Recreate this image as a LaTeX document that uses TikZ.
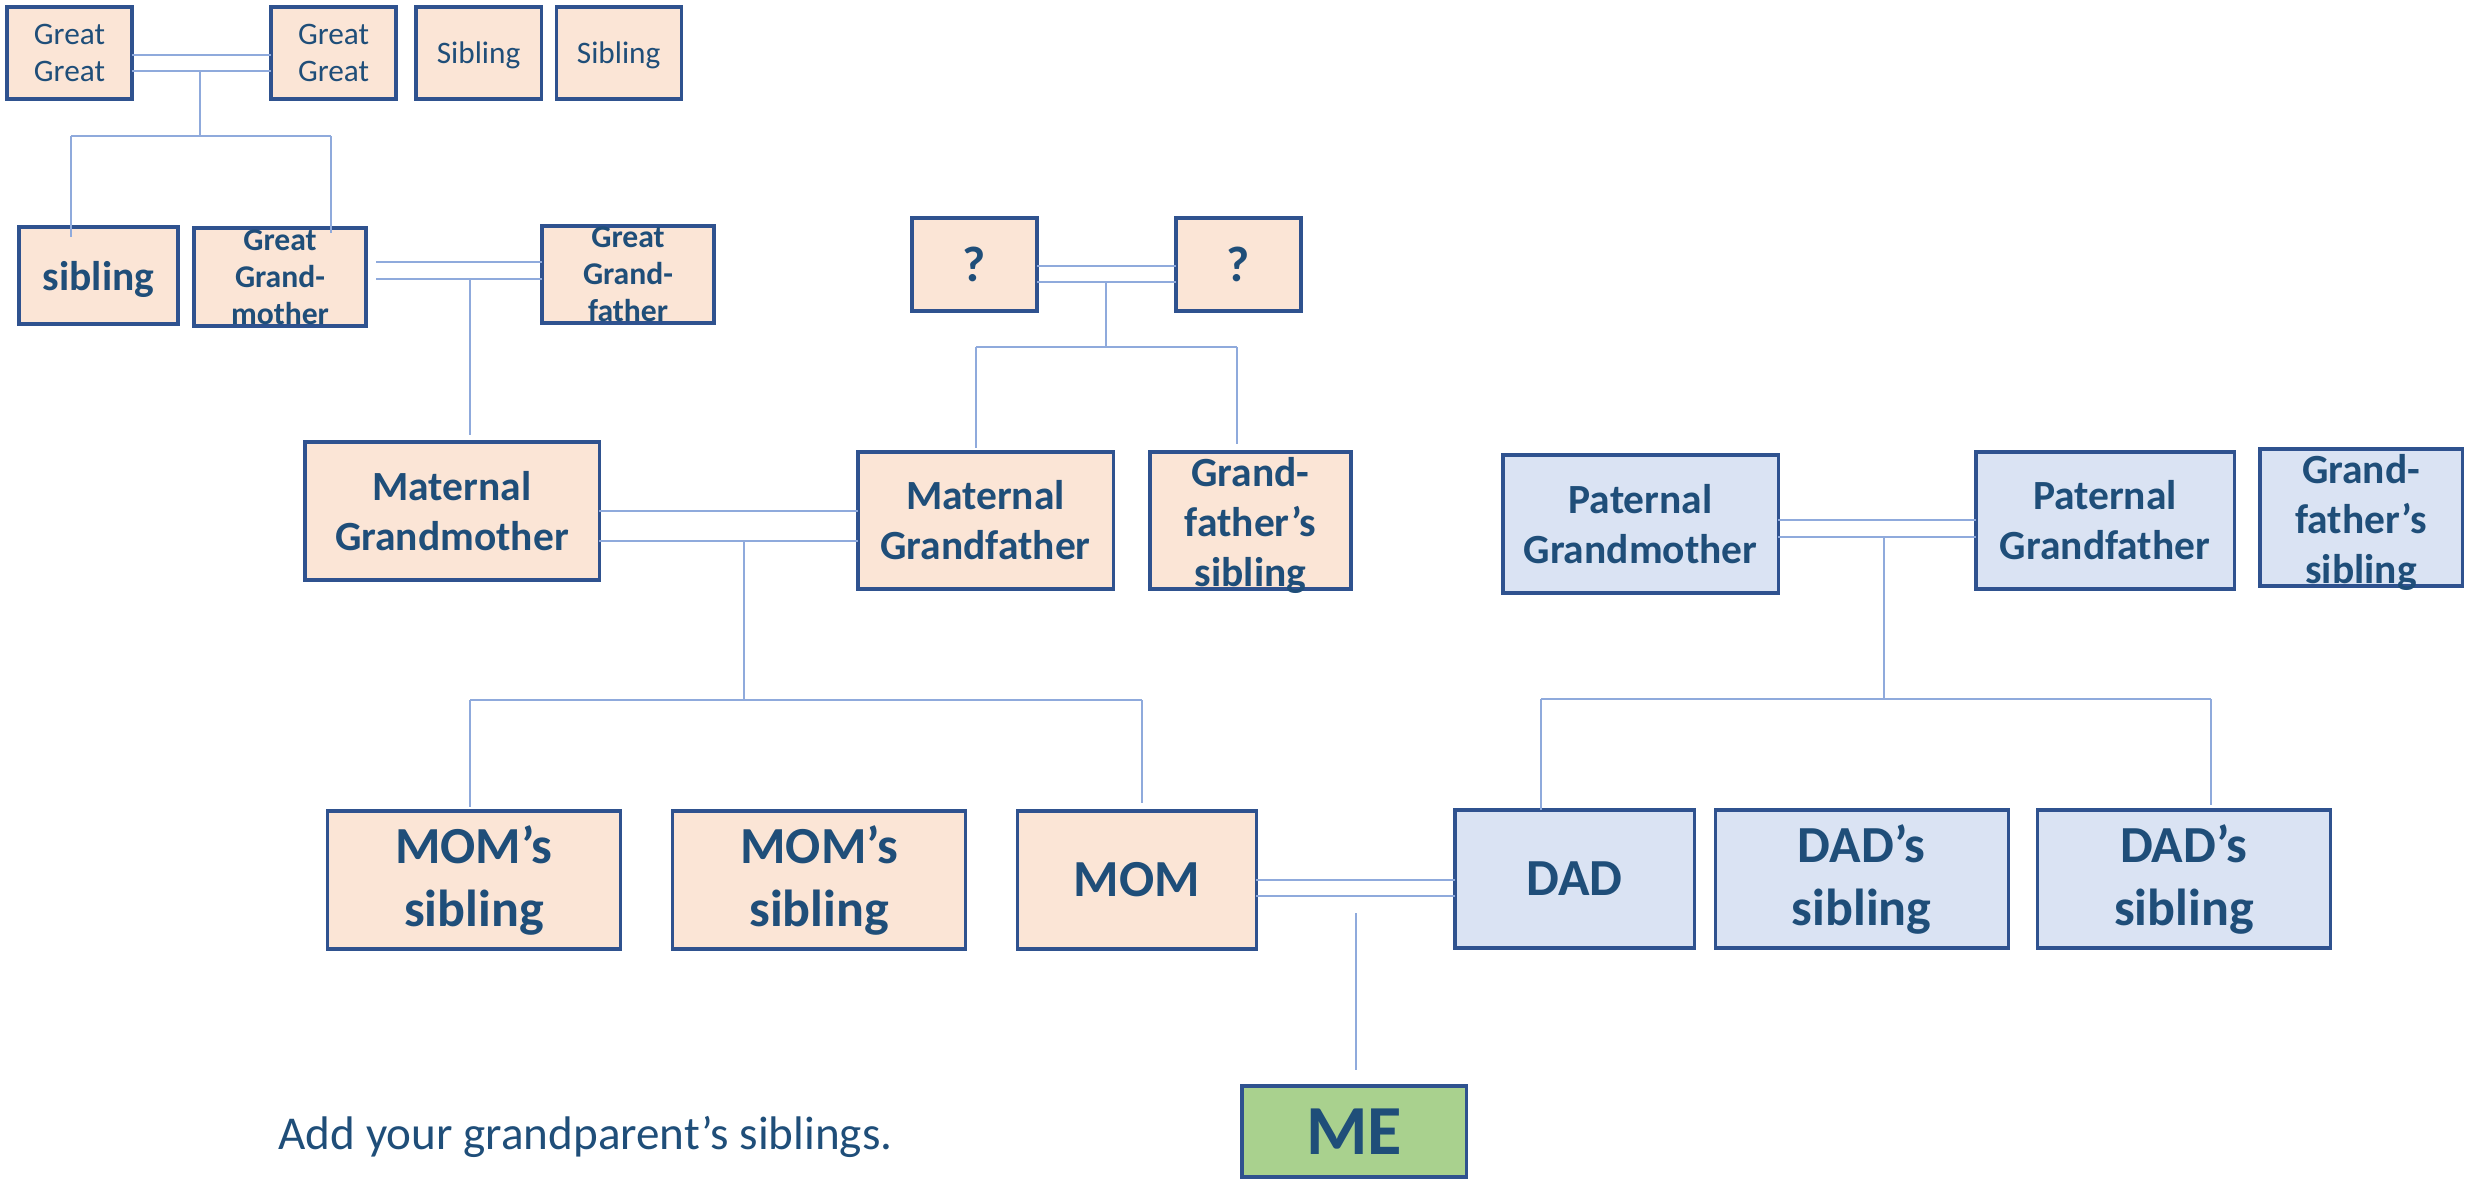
\documentclass[tikz,border=0pt]{standalone}
\usepackage{fontspec}
\setmainfont{Carlito}
\usetikzlibrary{positioning}

\definecolor{peach}{HTML}{FBE5D6}
\definecolor{paleblue}{HTML}{DAE3F3}
\definecolor{leafgreen}{HTML}{A9D18E}
\definecolor{edgeblue}{HTML}{2F528F}
\definecolor{inkblue}{HTML}{1F4E79}
\definecolor{linkblue}{HTML}{8FAADC}

\begin{document}
\begin{tikzpicture}[
    x=0.01cm, y=-0.01cm,
    person_style/.style={draw=edgeblue, line width=0.9pt, text=inkblue, inner sep=0pt, outer sep=0pt, align=center},
    mom_side/.style={person_style, fill=peach},
    dad_side/.style={person_style, fill=paleblue},
    me_style/.style={person_style, fill=leafgreen},
    text_style/.style={text=inkblue, inner sep=0pt, align=center},
    link_style/.style={draw=linkblue, line width=0.55pt},
    tiny_font/.style={font=\fontsize{8.9}{10.5}\selectfont},
    small_font/.style={font=\bfseries\fontsize{9}{10.5}\selectfont},
    mid_font/.style={font=\bfseries\fontsize{11.8}{14.2}\selectfont},
    big_font/.style={font=\bfseries\fontsize{14.8}{17.9}\selectfont}
]

    \useasboundingbox (0,0) rectangle (2473,1178);

    % Great great grandparents
    \node[mom_side, tiny_font, minimum width=1.25cm, minimum height=0.92cm] (gg_left) at (69.5,53) {Great\\Great};
    \node[mom_side, tiny_font, minimum width=1.25cm, minimum height=0.92cm] (gg_right) at (333.5,53) {Great\\Great};
    \node[mom_side, tiny_font, text depth=0pt, minimum width=1.25cm, minimum height=0.92cm, right=0.2cm of gg_right] (gg_sib_a) {Sibling};
    \node[mom_side, tiny_font, text depth=0pt, minimum width=1.25cm, minimum height=0.92cm, right=0.15cm of gg_sib_a] (gg_sib_b) {Sibling};

    % Great grandparents
    \node[mom_side, mid_font, text depth=0pt, minimum width=1.59cm, minimum height=0.97cm] (g_sibling) at (98.5,275.5) {sibling};
    \node[mom_side, minimum width=1.72cm, minimum height=0.98cm] (g_grandma) at (280,277) {};
    \node[text_style, small_font] (g_grandma_txt) at (g_grandma) {Great\\Grand-\\mother};
    \node[mom_side, minimum width=1.72cm, minimum height=0.97cm] (g_grandpa) at (628,274.5) {};
    \node[text_style, small_font] (g_grandpa_txt) at (g_grandpa) {Great\\Grand-\\father};
    \node[mom_side, font=\bfseries\fontsize{14.2}{17}\selectfont, minimum width=1.25cm, minimum height=0.93cm] (q_left) at (974.5,264.5) {?};
    \node[mom_side, font=\bfseries\fontsize{14.2}{17}\selectfont, minimum width=1.25cm, minimum height=0.93cm] (q_right) at (1238.5,264.5) {?};

    % Grandparents
    \node[mom_side, mid_font, minimum width=2.94cm, minimum height=1.38cm] (m_grandma) at (452,511) {Maternal\\Grandmother};
    \node[mom_side, mid_font, minimum width=2.55cm, minimum height=1.37cm] (m_grandpa) at (985.5,520.5) {Maternal\\Grandfather};
    \node[mom_side, minimum width=2.01cm, minimum height=1.37cm] (m_gp_sib) at (1250.5,520.5) {};
    \node[text_style, mid_font] (m_gp_sib_txt) at ([yshift=-0.05cm]m_gp_sib) {Grand-\\father’s\\sibling};
    \node[dad_side, mid_font, minimum width=2.75cm, minimum height=1.38cm] (p_grandma) at (1640.5,524) {Paternal\\Grandmother};
    \node[dad_side, mid_font, minimum width=2.58cm, minimum height=1.37cm] (p_grandpa) at (2105,520.5) {Paternal\\Grandfather};
    \node[dad_side, minimum width=2.02cm, minimum height=1.37cm] (p_gp_sib) at (2361,517.5) {};
    \node[text_style, mid_font] (p_gp_sib_txt) at ([yshift=-0.05cm]p_gp_sib) {Grand-\\father’s\\sibling};

    % Parents
    \node[mom_side, big_font, minimum width=2.93cm, minimum height=1.38cm] (mom_sib_a) at (474,880) {MOM’s\\sibling};
    \node[mom_side, big_font, minimum width=2.93cm, minimum height=1.38cm, right=0.52cm of mom_sib_a] (mom_sib_b) {MOM’s\\sibling};
    \node[mom_side, big_font, minimum width=2.39cm, minimum height=1.38cm, right=0.514cm of mom_sib_b] (mom) {MOM};
    \node[dad_side, big_font, minimum width=2.39cm, minimum height=1.38cm] (dad) at (1574.5,879) {DAD};
    \node[dad_side, big_font, minimum width=2.93cm, minimum height=1.38cm, right=0.21cm of dad] (dad_sib_a) {DAD’s\\sibling};
    \node[dad_side, big_font, minimum width=2.93cm, minimum height=1.38cm, right=0.29cm of dad_sib_a] (dad_sib_b) {DAD’s\\sibling};

    % Me
    \node[me_style, font=\bfseries\fontsize{20}{24}\selectfont, minimum width=2.24cm, minimum height=0.91cm] (me) at (1354,1131.5) {ME};
    \node[text_style, anchor=base west, font=\fontsize{13.4}{16}\selectfont] (hint) at (278,1149) {Add your grandparent’s siblings.};

    % Couples
    \draw[link_style] (gg_left.east |- 0,55) -- (gg_right.west |- 0,55);
    \draw[link_style] (gg_left.east |- 0,71) -- (gg_right.west |- 0,71);
    \draw[link_style, shorten <=0.1cm] (g_grandma.east |- 0,262) -- (g_grandpa.west |- 0,262);
    \draw[link_style, shorten <=0.1cm] (g_grandma.east |- 0,279) -- (g_grandpa.west |- 0,279);
    \draw[link_style] (q_left.east |- 0,266) -- (q_right.west |- 0,266);
    \draw[link_style] (q_left.east |- 0,282) -- (q_right.west |- 0,282);
    \draw[link_style] (m_grandma.east |- 0,511) -- (m_grandpa.west |- 0,511);
    \draw[link_style] (m_grandma.east |- 0,541) -- (m_grandpa.west |- 0,541);
    \draw[link_style] (p_grandma.east |- 0,520) -- (p_grandpa.west |- 0,520);
    \draw[link_style] (p_grandma.east |- 0,537) -- (p_grandpa.west |- 0,537);
    \draw[link_style] (mom.east |- 0,880) -- (dad.west |- 0,880);
    \draw[link_style] (mom.east |- 0,896) -- (dad.west |- 0,896);

    % Children of great great couple
    \coordinate (gg_kids) at (200,71);
    \coordinate (gg_bar_l) at (71,136);
    \coordinate (gg_bar_r) at (331,136);
    \draw[link_style] (gg_kids) -- (gg_kids |- gg_bar_l);
    \draw[link_style] (gg_bar_l) -- (gg_bar_r);
    \draw[link_style] (gg_bar_l) -- ([yshift=-0.1cm]gg_bar_l |- g_sibling.north);
    \draw[link_style] (gg_bar_r) -- ([yshift=-0.05cm]gg_bar_r |- g_grandma.north);

    % Child of great grandparents
    \coordinate (g_kids) at (470,279);
    \draw[link_style, shorten >=0.07cm] (g_kids) -- (g_kids |- m_grandma.north);

    % Children of ? couple
    \coordinate (q_kids) at (1106,282);
    \coordinate (q_bar_l) at (976,347);
    \coordinate (q_bar_r) at (1237,347);
    \draw[link_style] (q_kids) -- (q_kids |- q_bar_l);
    \draw[link_style] (q_bar_l) -- (q_bar_r);
    \draw[link_style, shorten >=0.04cm] (q_bar_l) -- (q_bar_l |- m_grandpa.north);
    \draw[link_style, shorten >=0.08cm] (q_bar_r) -- (q_bar_r |- m_gp_sib.north);

    % Children of maternal grandparents
    \coordinate (m_kids) at (744,541);
    \coordinate (m_bar_l) at (470,700);
    \coordinate (m_bar_r) at (1142,700);
    \draw[link_style] (m_kids) -- (m_kids |- m_bar_l);
    \draw[link_style] (m_bar_l) -- (m_bar_r);
    \draw[link_style, shorten >=0.04cm] (m_bar_l) -- (m_bar_l |- mom_sib_a.north);
    \draw[link_style, shorten >=0.08cm] (m_bar_r) -- (m_bar_r |- mom.north);

    % Children of paternal grandparents
    \coordinate (p_kids) at (1884,537);
    \coordinate (p_bar_l) at (1541,699);
    \coordinate (p_bar_r) at (2211,699);
    \draw[link_style] (p_kids) -- (p_kids |- p_bar_l);
    \draw[link_style] (p_bar_l) -- (p_bar_r);
    \draw[link_style] (p_bar_l) -- (p_bar_l |- dad.north);
    \draw[link_style, shorten >=0.05cm] (p_bar_r) -- (p_bar_r |- dad_sib_b.north);

    % Child of parents
    \coordinate (our_kid) at (1356,913);
    \draw[link_style, shorten >=0.16cm] (our_kid) -- (our_kid |- me.north);

\end{tikzpicture}
\end{document}
